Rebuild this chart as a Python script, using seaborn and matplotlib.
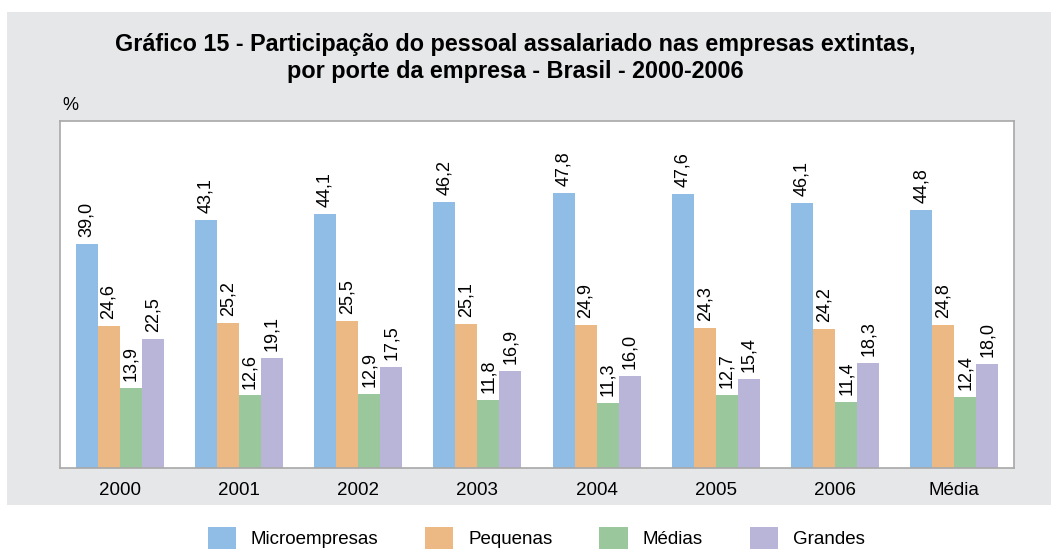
import pandas as pd
import seaborn as sns
import matplotlib.pyplot as plt
from matplotlib.patches import Rectangle

# Dados do gráfico
anos = ['2000', '2001', '2002', '2003', '2004', '2005', '2006', 'Média']
portes = ['Microempresas', 'Pequenas', 'Médias', 'Grandes']
micro = [39.0, 43.1, 44.1, 46.2, 47.8, 47.6, 46.1, 44.8]
pequenas = [24.6, 25.2, 25.5, 25.1, 24.9, 24.3, 24.2, 24.8]
medias = [13.9, 12.6, 12.9, 11.8, 11.3, 12.7, 11.4, 12.4]
grandes = [22.5, 19.1, 17.5, 16.9, 16.0, 15.4, 18.3, 18.0]
cores = ['#8fbde6', '#ecb985', '#9ac89c', '#b9b5d9']

df = pd.DataFrame({
    'ano': anos * 4,
    'porte': [p for p in portes for _ in anos],
    'valor': micro + pequenas + medias + grandes,
})

sns.set_style('white')
plt.rcParams['font.family'] = ['Liberation Sans', 'DejaVu Sans']
plt.rcParams['text.color'] = 'black'
plt.rcParams['xtick.color'] = 'black'

fig = plt.figure(figsize=(10.51, 5.49), dpi=100)
fig.patch.set_facecolor('white')
fig.patches.append(Rectangle((7 / 1051, 1 - 505 / 549), 1, (505 - 12) / 549,
                             transform=fig.transFigure, facecolor='#e6e7e9',
                             edgecolor='none', zorder=-10))

ax = fig.add_axes([60 / 1051, 1 - 468 / 549, 954 / 1051, 347 / 549])
ax.set_facecolor('white')
sns.barplot(data=df, x='ano', y='valor', hue='porte', palette=cores,
            width=0.74, saturation=1, linewidth=0, ax=ax, legend=True)

for cont in ax.containers:
    rotulos = [f'{v:.1f}'.replace('.', ',') for v in cont.datavalues]
    ax.bar_label(cont, labels=rotulos, rotation=90, padding=5, fontsize=13)

ax.set_ylim(0, 60.3)
ax.set_xlim(-0.5, 7.5)
ax.set_xlabel('')
ax.set_ylabel('')
ax.set_yticks([])
ax.tick_params(axis='x', which='major', length=0, labelsize=13.5, pad=10)
ax.set_xticks([i - 0.5 for i in range(9)], minor=True)
ax.tick_params(axis='x', which='minor', length=5, color='#a0a0a0', direction='out')
for s in ax.spines.values():
    s.set_color('#a8a8a8')
    s.set_linewidth(1.2)

h, l = ax.get_legend_handles_labels()
ax.get_legend().remove()
fig.legend(h, l, loc='center', bbox_to_anchor=(536 / 1051, 1 - 538 / 549), ncol=4,
           frameon=False, fontsize=13.5, handlelength=1.5, handleheight=1.5,
           columnspacing=2.5, handletextpad=0.8)

fig.text(515 / 1051, 1 - 58 / 549,
         'Gráfico 15 - Participação do pessoal assalariado nas empresas extintas,\n'
         'por porte da empresa - Brasil - 2000-2006',
         ha='center', va='center', fontsize=16.8, fontweight='bold', linespacing=1.2)
fig.text(62 / 1051, 1 - 105 / 549, '%', ha='left', va='center', fontsize=13)

fig.savefig('out.png', dpi=100)
